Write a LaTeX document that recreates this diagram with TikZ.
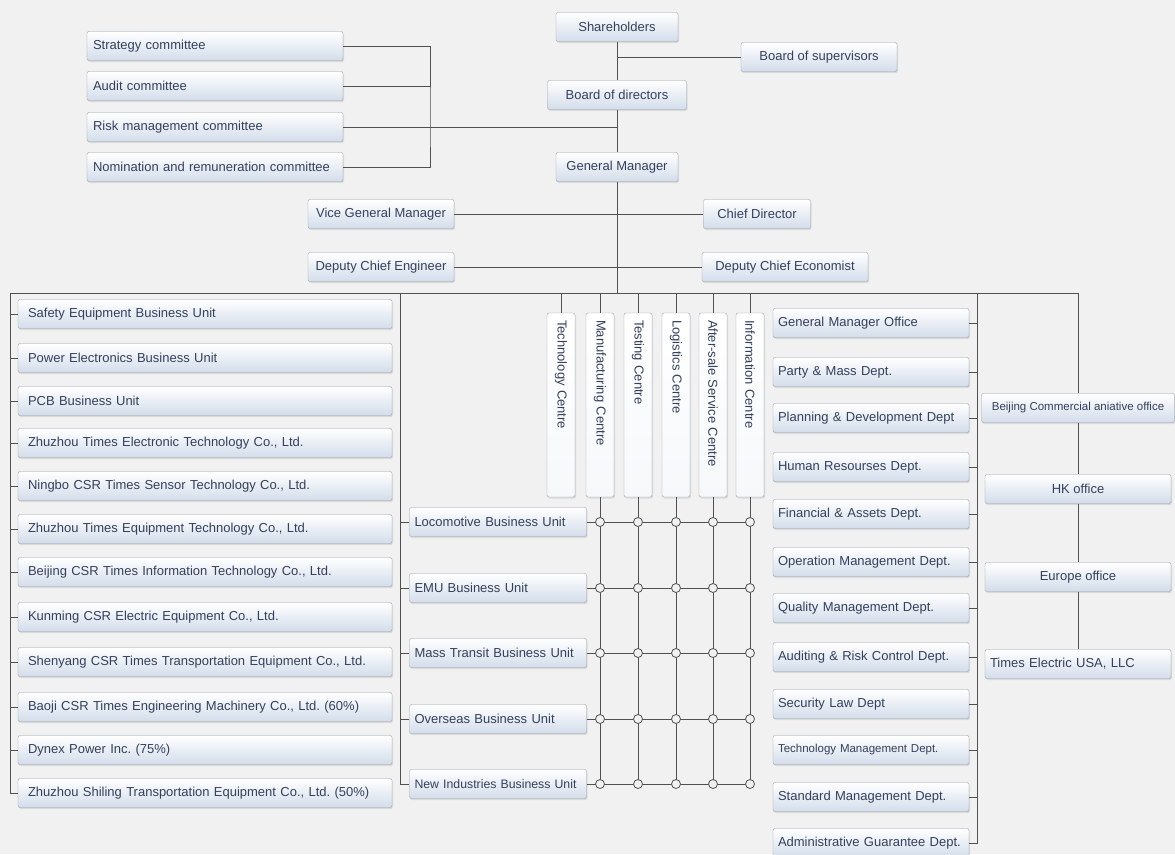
\documentclass[tikz,border=0pt]{standalone}
\usepackage{fontspec}
\setmainfont{Liberation Sans}
\usetikzlibrary{shadows}
\definecolor{bg}{HTML}{F1F1F1}
\definecolor{boxblue}{HTML}{D3DDEA}
\definecolor{boxline}{HTML}{9AA0A8}
\definecolor{txt}{HTML}{34405C}
\definecolor{linec}{HTML}{505050}
\frenchspacing
\begin{document}
\begin{tikzpicture}[x=1pt,y=-1pt,font=\fontsize{13}{15}\selectfont,
  box/.style={draw=boxline,rounded corners=2pt,top color=white,bottom color=boxblue,text=txt,minimum height=29pt,inner xsep=6pt,inner ysep=2pt,drop shadow={opacity=.2,shadow xshift=1pt,shadow yshift=-1.5pt}},
  lbox/.style={box,align=left,text width=#1},
  cbox/.style={box,align=left,text width=170pt,minimum height=28pt,inner xsep=7pt,rotate=-90,bottom color=white!80!boxblue},
  link/.style={draw=linec,line width=.8pt},
  dot/.style={circle,draw=linec,fill=bg,line width=.8pt,inner sep=0pt,minimum size=9pt}]
\path[use as bounding box,fill=bg] (0,0) rectangle (1175,854);
\node[box,minimum width=122pt] (sh) at (617,27) {Shareholders};
\node[box,minimum width=156pt] (bos) at (819,57) {Board of supervisors};
\node[box,minimum width=139pt] (bod) at (617,95) {Board of directors};
\node[box,minimum width=122pt] (gm) at (617,167) {General Manager};
\node[box,minimum width=146pt] (vgm) at (381,214) {Vice General Manager};
\node[box,minimum width=107pt] (cd) at (757,214) {Chief Director};
\node[box,minimum width=146pt] (dce) at (381,267) {Deputy Chief Engineer};
\node[box,minimum width=166pt] (dcec) at (785,267) {Deputy Chief Economist};
\node[lbox=244pt] (stc) at (215,46) {Strategy committee};
\node[lbox=244pt] (auc) at (215,86) {Audit committee};
\node[lbox=244pt] (rmc) at (215,127) {Risk management committee};
\node[lbox=244pt] (nrc) at (215,167) {Nomination and remuneration committee};
\coordinate (cbr) at (430,127);
\draw[link] (sh) -- (bod);
\draw[link] (sh.south |- bos.west) -- (bos.west);
\draw[link] (bod) -- (gm);
\draw[link] (stc.east) -| (cbr) |- (nrc.east);
\draw[link] (auc.east) -- (auc.east -| cbr);
\draw[link] (rmc.east) -- (rmc.east -| bod.south);
\draw[link] (vgm) -- (cd);
\draw[link] (dce) -- (dcec);
\coordinate (busL) at (10,293);
\coordinate (busM) at (400,293);
\coordinate (busD) at (977,293);
\coordinate (busR) at (1078,293);
\draw[link] (gm.south) -- (gm.south |- busL);
\draw[link] (busL) -- (busR);
\node[lbox=354pt,inner xsep=10pt] (safety) at (205,314) {Safety Equipment Business Unit};
\node[lbox=354pt,inner xsep=10pt] (power) at (205,358) {Power Electronics Business Unit};
\node[lbox=354pt,inner xsep=10pt] (pcb) at (205,401) {PCB Business Unit};
\node[lbox=354pt,inner xsep=10pt] (zte) at (205,443) {Zhuzhou Times Electronic Technology Co., Ltd.};
\node[lbox=354pt,inner xsep=10pt] (ningbo) at (205,486) {Ningbo CSR Times Sensor Technology Co., Ltd.};
\node[lbox=354pt,inner xsep=10pt] (zteq) at (205,529) {Zhuzhou Times Equipment Technology Co., Ltd.};
\node[lbox=354pt,inner xsep=10pt] (bjinfo) at (205,572) {Beijing CSR Times Information Technology Co., Ltd.};
\node[lbox=354pt,inner xsep=10pt] (kunming) at (205,617) {Kunming CSR Electric Equipment Co., Ltd.};
\node[lbox=354pt,inner xsep=10pt] (shenyang) at (205,662) {Shenyang CSR Times Transportation Equipment Co., Ltd.};
\node[lbox=354pt,inner xsep=10pt] (baoji) at (205,707) {Baoji CSR Times Engineering Machinery Co., Ltd. (60\%)};
\node[lbox=354pt,inner xsep=10pt] (dynex) at (205,750) {Dynex Power Inc. (75\%)};
\node[lbox=354pt,inner xsep=10pt] (shiling) at (205,793) {Zhuzhou Shiling Transportation Equipment Co., Ltd. (50\%)};
\draw[link] (busL) |- (shiling.west);
\foreach \n in {safety,power,pcb,zte,ningbo,zteq,bjinfo,kunming,shenyang,baoji,dynex}
  \draw[link] (\n.west) -- (\n.west -| busL);
\node[lbox=167pt,inner xsep=5pt] (loco) at (498,522) {Locomotive Business Unit};
\node[lbox=167pt,inner xsep=5pt] (emu) at (498,588) {EMU Business Unit};
\node[lbox=167pt,inner xsep=5pt] (mtu) at (498,653) {Mass Transit Business Unit};
\node[lbox=167pt,inner xsep=5pt] (osu) at (498,719) {Overseas Business Unit};
\node[lbox=167pt,inner xsep=5pt,font=\fontsize{12.3}{14}\selectfont] (niu) at (498,784) {New Industries Business Unit};
\draw[link] (busM) |- (niu.west);
\foreach \n in {loco,emu,mtu,osu}
  \draw[link] (\n.west) -- (\n.west -| busM);
\node[cbox] (tec) at (561,405) {Technology Centre};
\node[cbox] (mfc) at (600,405) {Manufacturing Centre};
\node[cbox] (tsc) at (638,405) {Testing Centre};
\node[cbox] (lgc) at (676,405) {Logistics Centre};
\node[cbox] (asc) at (713,405) {After-sale Service Centre};
\node[cbox] (ifc) at (750,405) {Information Centre};
\foreach \c in {tec,mfc,tsc,lgc,asc,ifc}
  \draw[link] (\c.west) -- (\c.west |- busL);
\foreach \c in {mfc,tsc,lgc,asc,ifc}
  \draw[link] (\c.east) -- (\c.east |- niu.east);
\foreach \r in {loco,emu,mtu,osu,niu}
  \draw[link] (\r.east) -- (\r.east -| ifc.east);
\foreach \r in {loco,emu,mtu,osu,niu}
  \foreach \c in {mfc,tsc,lgc,asc,ifc}
    \node[dot] (\r-\c) at (\c.east |- \r.east) {};
\node[lbox=186pt,inner xsep=5pt] (gmo) at (871,323) {General Manager Office};
\node[lbox=186pt,inner xsep=5pt] (pmd) at (871,372) {Party \& Mass Dept.};
\node[lbox=186pt,inner xsep=5pt] (pdd) at (871,418) {Planning \& Development Dept};
\node[lbox=186pt,inner xsep=5pt] (hrd) at (871,467) {Human Resourses Dept.};
\node[lbox=186pt,inner xsep=5pt] (fad) at (871,514) {Financial \& Assets Dept.};
\node[lbox=186pt,inner xsep=5pt] (omd) at (871,562) {Operation Management Dept.};
\node[lbox=186pt,inner xsep=5pt] (qmd) at (871,608) {Quality Management Dept.};
\node[lbox=186pt,inner xsep=5pt] (ard) at (871,657) {Auditing \& Risk Control Dept.};
\node[lbox=186pt,inner xsep=5pt] (sld) at (871,704) {Security Law Dept};
\node[lbox=186pt,inner xsep=5pt,font=\fontsize{11.5}{13}\selectfont] (tmd) at (871,750) {Technology Management Dept.};
\node[lbox=186pt,inner xsep=5pt] (smd) at (871,797) {Standard Management Dept.};
\node[lbox=186pt,inner xsep=5pt] (agd) at (871,843) {Administrative Guarantee Dept.};
\draw[link] (busD) |- (agd.east);
\foreach \n in {gmo,pmd,pdd,hrd,fad,omd,qmd,ard,sld,tmd,smd}
  \draw[link] (\n.east) -- (\n.east -| busD);
\node[box,minimum width=193pt,inner xsep=4pt,font=\fontsize{11.5}{13}\selectfont] (bjo) at (1078,408) {Beijing Commercial aniative office};
\node[box,minimum width=186pt] (hko) at (1078,489) {HK office};
\node[box,minimum width=186pt] (euo) at (1078,577) {Europe office};
\node[lbox=176pt,inner xsep=5pt] (usa) at (1078,664) {Times Electric USA, LLC};
\draw[link] (busR) -- (bjo.north);
\draw[link] (bjo) -- (hko);
\draw[link] (hko) -- (euo);
\draw[link] (euo) -- (usa);
\end{tikzpicture}
\end{document}
